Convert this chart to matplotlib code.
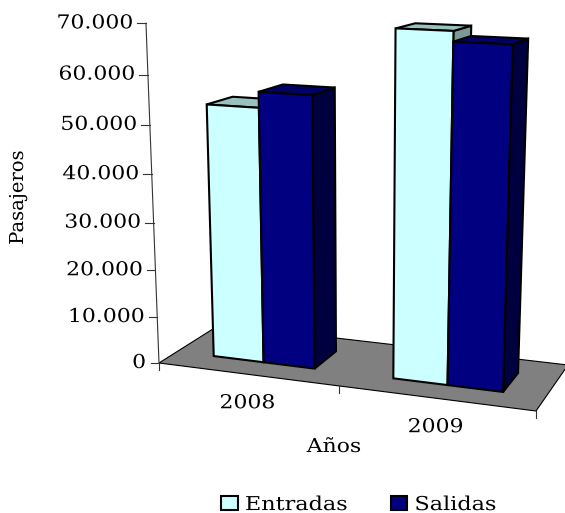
import numpy as np
import matplotlib
matplotlib.use("Agg")
import matplotlib.pyplot as plt
from matplotlib.patches import Polygon, Patch
from matplotlib.patheffects import AbstractPathEffect
from matplotlib.transforms import Affine2D

plt.rcParams['font.family'] = ['DejaVu Serif']

# datos
anios = ["2008", "2009"]
entradas = [53500, 70400]
salidas = [56700, 68400]
ticks_y = [0, 10000, 20000, 30000, 40000, 50000, 60000, 70000]
ymax = 70000

# camara: esquinas del suelo en pixeles y punto de fuga de las verticales
A, B, C, E = map(np.array, [(159, 363), (536, 411), (568, 365), (220, 324.5)])
fuga = np.array([360, 5600])
lam = -0.0087 * 7 / ymax


def det(p, q):
    return p[0] * q[1] - p[1] * q[0]


d1, d2, s = B - C, E - C, A - B + C - E
g = det(s, d2) / det(d1, d2)
h = det(d1, s) / det(d1, d2)
col_x = B - A + g * B
col_d = E - A + h * E


def proy(x, d, v):
    """x: posicion de categoria (0..n), d: fondo (0..1), v: valor"""
    u = x / len(anios)
    w = 1 + g * u + h * d + lam * v
    return (A + col_x * u + col_d * d + lam * fuga * v) / w


class Estirar(AbstractPathEffect):
    # la fuente del original es mas ancha que DejaVu Serif
    def __init__(self, cx, cy, fx=1.0, fy=1.0):
        super().__init__()
        self.t = Affine2D().translate(-cx, -cy).scale(fx, fy).translate(cx, cy)

    def draw_path(self, renderer, gc, tpath, affine, rgbFace=None):
        renderer.draw_path(gc, tpath, affine + self.t, rgbFace)


fig = plt.figure(figsize=(5.65, 5.13), dpi=100)
ax = fig.add_axes([0, 0, 1, 1])
ax.set_xlim(0, 565)
ax.set_ylim(513, 0)
ax.axis("off")


def texto(x, y, s, ha="center", fx=1.146):
    ax.text(x, y, s, ha=ha, va="center", fontsize=13.8, color="black",
            path_effects=[Estirar(x, 0, fx=fx)])


def cara(pts, color, lw=1.5, z=2):
    ax.add_patch(Polygon(pts, closed=True, facecolor=color, edgecolor="black",
                         linewidth=lw, joinstyle="miter", zorder=z))


def barra(x0, x1, v, colores):
    d0, d1 = 0.28, 0.70
    frente, arriba, lado = colores
    cara([proy(x1, d0, 0), proy(x1, d1, 0), proy(x1, d1, v), proy(x1, d0, v)], lado)
    cara([proy(x0, d0, v), proy(x1, d0, v), proy(x1, d1, v), proy(x0, d1, v)], arriba)
    cara([proy(x0, d0, 0), proy(x1, d0, 0), proy(x1, d0, v), proy(x0, d0, v)], frente)


# suelo
cara([proy(0, 0, 0), proy(2, 0, 0), proy(2, 1, 0), proy(0, 1, 0)], "#808080", lw=0.8, z=1)

# barras
colores_e = ("#CCFFFF", "#99C2BF", "#7A9A98")
colores_s = ("#000080", "#000066", "#000040")
ancho = 0.286
for i in range(len(anios)):
    barra(i + 0.5 - ancho, i + 0.5, entradas[i], colores_e)
    barra(i + 0.5, i + 0.5 + ancho, salidas[i], colores_s)

# eje de valores
p0, p1 = proy(0, 0, 0), proy(0, 0, ymax)
ax.plot([p0[0], p1[0]], [p0[1], p1[1]], color="#333333", lw=0.8, zorder=3)
for t in ticks_y:
    p = proy(0, 0, t)
    ax.plot([p[0] - 8.5, p[0]], [p[1], p[1]], color="#333333", lw=0.8, zorder=3)
    texto(p[0] - 13, p[1], f"{t:,}".replace(",", "."), ha="right")

# eje de categorias
for x in range(len(anios) + 1):
    p = proy(x, 0, 0)
    ax.plot([p[0], p[0]], [p[1], p[1] + 7], color="#333333", lw=0.8, zorder=1.5)
for i, nombre in enumerate(anios):
    p = proy(i + 0.5, 0, 0)
    texto(p[0], p[1] + 29, nombre)

texto(334, 447, "Años")
ax.text(18, 197.5, "Pasajeros", rotation=90, ha="center", va="center", fontsize=13.8,
        color="black", path_effects=[Estirar(0, 513 - 197.5, fy=1.02)])

handles = [Patch(facecolor=colores_e[0], edgecolor="black", linewidth=1.5, label="Entradas"),
           Patch(facecolor=colores_s[0], edgecolor="black", linewidth=1.5, label="Salidas")]
leg = ax.legend(handles=handles, ncol=2, loc="center left", bbox_to_anchor=(0.392, 0.0155), frameon=False,
                fontsize=13.8, handlelength=0.855, handleheight=0.74, handletextpad=0.37,
                columnspacing=3.0, borderpad=0, borderaxespad=0, labelcolor="black")
fig.canvas.draw()
for t in leg.get_texts():
    t.set_path_effects([Estirar(t.get_window_extent().x0, 0, fx=1.165)])

fig.savefig("out.png", dpi=100)
